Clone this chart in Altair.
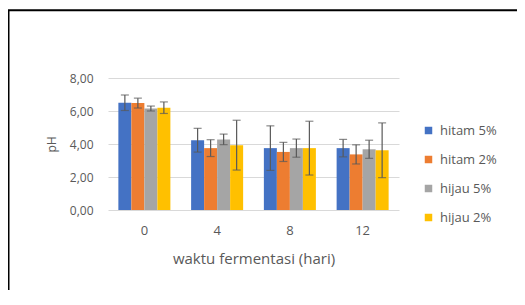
import altair as alt
import pandas as pd

days = ["0", "4", "8", "12"]
series = ["hitam 5%", "hitam 2%", "hijau 5%", "hijau 2%"]
colors = ["#4472C4", "#ED7D31", "#A5A5A5", "#FFC000"]

hitam5 = [6.50, 4.23, 3.75, 3.75]
hitam5_err = [0.47, 0.72, 1.35, 0.53]
hitam2 = [6.48, 3.75, 3.52, 3.37]
hitam2_err = [0.30, 0.51, 0.58, 0.58]
hijau5 = [6.15, 4.28, 3.75, 3.68]
hijau5_err = [0.15, 0.32, 0.55, 0.55]
hijau2 = [6.20, 3.93, 3.75, 3.62]
hijau2_err = [0.35, 1.51, 1.63, 1.66]
y_ticks = [0, 2, 4, 6, 8]

rows = []
for s, vals, errs in zip(series, [hitam5, hitam2, hijau5, hijau2],
                         [hitam5_err, hitam2_err, hijau5_err, hijau2_err]):
    for d, v, e in zip(days, vals, errs):
        rows.append(dict(hari=d, seri=s, ph=v, lo=v - e, hi=v + e))
df = pd.DataFrame(rows)

FONT = "Open Sans"
TXT = "#595959"

x = alt.X("hari:N", sort=days, title="waktu fermentasi (hari)",
          scale=alt.Scale(paddingInner=0.285, paddingOuter=0.1425),
          axis=alt.Axis(labelAngle=0, ticks=False, domain=False, grid=False,
                        labelFontSize=13, titleFontSize=15,
                        labelPadding=14, titlePadding=14))
xoff = alt.XOffset("seri:N", sort=series,
                   scale=alt.Scale(paddingInner=0, paddingOuter=0))

yscale = alt.Scale(domain=[0, 8], nice=False)
yaxis = alt.Axis(values=y_ticks, tickCount=5, ticks=False, domain=False,
                 labelOverlap=False, labelPadding=15, titlePadding=11,
                 labelFontSize=12, titleFontSize=12,
                 labelExpr="replace(format(datum.value, '.2f'), '.', ',')")


def Y(field):
    return alt.Y(field, title="pH", scale=yscale, axis=yaxis)


bars = alt.Chart(df).mark_bar().encode(
    x=x,
    xOffset=xoff,
    y=Y("ph:Q"),
    color=alt.Color("seri:N", sort=series,
                    scale=alt.Scale(domain=series, range=colors),
                    legend=alt.Legend(title=None, orient="none", legendX=314, legendY=46,
                                      symbolType="square", symbolSize=56,
                                      symbolStrokeWidth=0, labelFontSize=13,
                                      labelColor=TXT, labelFont=FONT,
                                      rowPadding=15, labelOffset=5)),
)

rules = alt.Chart(df).mark_rule(color="#595959", strokeWidth=1.2).encode(
    x=x, xOffset=xoff, y=Y("lo:Q"), y2="hi:Q")
cap_lo = alt.Chart(df).mark_tick(color="#595959", thickness=1.2, size=8).encode(
    x=x, xOffset=xoff, y=Y("lo:Q"))
cap_hi = alt.Chart(df).mark_tick(color="#595959", thickness=1.2, size=8).encode(
    x=x, xOffset=xoff, y=Y("hi:Q"))

border = alt.Chart(alt.Data(values=[{"a": 1}])).mark_rect(
    fillOpacity=0, stroke="#000000", strokeWidth=2).encode(
    x=alt.value(-99.5), x2=alt.value(700), y=alt.value(-67.8), y2=alt.value(500))

chart = alt.layer(bars, rules, cap_lo, cap_hi, border).properties(
    width=291, height=132,
    autosize=alt.AutoSizeParams(type="none"),
    padding={"left": 100, "top": 70, "right": 118, "bottom": 80},
).configure_view(stroke=None).configure_axis(
    labelFont=FONT, titleFont=FONT,
    labelColor=TXT, titleColor=TXT, titleFontWeight="normal",
    gridColor="#D9D9D9", gridWidth=1,
)

chart.save("out.html", embed_options={"renderer": "svg", "actions": False})
